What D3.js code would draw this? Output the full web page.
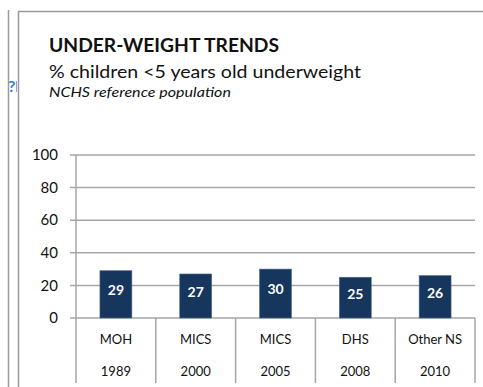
<!DOCTYPE html>
<html>
<head>
<meta charset="utf-8">
<script src="https://cdn.jsdelivr.net/npm/d3@7"></script>
<style>
  body { margin: 0; background: #fff; }
  svg { display: block; font-family: Lato, "Open Sans", sans-serif; }
  .grid line { stroke: #a6a6a6; stroke-width: 1.5; }
</style>
</head>
<body>
<svg width="483" height="387"></svg>
<script>
var sources = ["MOH", "MICS", "MICS", "DHS", "Other NS"],
    years = ["1989", "2000", "2005", "2008", "2010"],
    values = [29, 27, 30, 25, 26],
    yTicks = [0, 20, 40, 60, 80, 100];

var svg = d3.select("svg");

// frame lines of the slide around the chart
svg.append("clipPath").attr("id", "side").append("rect")
    .attr("x", 9).attr("y", 0).attr("width", 8).attr("height", 387);
svg.append("text").attr("x", 8).attr("y", 92).attr("fill", "#2f7fd0")
    .attr("clip-path", "url(#side)")
    .style("font-size", "16px").style("font-weight", "bold").text("?l");
svg.append("line").attr("x1", 8.5).attr("x2", 8.5).attr("y1", 10).attr("y2", 387)
    .attr("stroke", "#9a9a9a").attr("stroke-width", 1.5);
svg.append("path").attr("d", "M18.5,387V11.5H483")
    .attr("fill", "none").attr("stroke", "#9a9a9a").attr("stroke-width", 1.5);

// titles
svg.append("text").attr("x", 49).attr("y", 52)
    .attr("textLength", 230).attr("lengthAdjust", "spacingAndGlyphs")
    .style("font-size", "19px").style("font-weight", "bold").attr("fill", "#111")
    .text("UNDER-WEIGHT TRENDS");
svg.append("text").attr("x", 49).attr("y", 78)
    .attr("textLength", 312).attr("lengthAdjust", "spacingAndGlyphs")
    .style("font-size", "18px").attr("fill", "#111")
    .text("% children <5 years old underweight");
svg.append("text").attr("x", 49).attr("y", 97)
    .attr("textLength", 182).attr("lengthAdjust", "spacingAndGlyphs")
    .style("font-size", "13px").style("font-style", "italic").attr("fill", "#111")
    .text("NCHS reference population");

var plotLeft = 76, plotRight = 475, plotTop = 155, plotBottom = 318;

var x = d3.scaleBand().domain(d3.range(values.length)).range([plotLeft, plotRight]);
var y = d3.scaleLinear().domain([0, 100]).range([plotBottom, plotTop]);

// gridlines
svg.append("g").attr("class", "grid")
    .selectAll("line").data(yTicks).enter().append("line")
    .attr("x1", 70).attr("x2", plotRight)
    .attr("y1", function(d) { return y(d); })
    .attr("y2", function(d) { return y(d); });

// y axis labels
svg.append("g").selectAll("text").data(yTicks).enter().append("text")
    .attr("x", 58).attr("y", function(d) { return y(d); })
    .attr("dy", "0.35em").attr("text-anchor", "end")
    .style("font-size", "15px").attr("fill", "#111")
    .text(function(d) { return d; });

// vertical axis and category separators
var seps = d3.range(values.length + 1).map(function(i) {
  return i < values.length ? x(i) : x(values.length - 1) + x.bandwidth();
});
svg.append("line").attr("x1", plotLeft).attr("x2", plotLeft).attr("y1", plotTop).attr("y2", plotBottom)
    .attr("stroke", "#a6a6a6").attr("stroke-width", 1.5);
svg.append("g").selectAll("line").data(seps).enter().append("line")
    .attr("x1", function(d) { return d; }).attr("x2", function(d) { return d; })
    .attr("y1", plotBottom).attr("y2", 383)
    .attr("stroke", "#a6a6a6").attr("stroke-width", 1.5);

// bars
var bw = x.bandwidth() * 0.4;
svg.append("g").selectAll("rect").data(values).enter().append("rect")
    .attr("x", function(d, i) { return x(i) + (x.bandwidth() - bw) / 2; })
    .attr("y", function(d) { return y(d); })
    .attr("width", bw)
    .attr("height", function(d) { return y(0) - y(d); })
    .attr("fill", "#17365d")
    .attr("stroke", "#4a6a92").attr("stroke-width", 0.6);

// value labels
svg.append("g").selectAll("text").data(values).enter().append("text")
    .attr("x", function(d, i) { return x(i) + x.bandwidth() / 2; })
    .attr("y", function(d) { return (y(d) + y(0)) / 2 - 4; })
    .attr("dy", "0.35em").attr("text-anchor", "middle")
    .style("font-size", "14px").style("font-weight", "bold").attr("fill", "#fff")
    .text(function(d) { return d; });

// category labels
var cats = svg.append("g").selectAll("g").data(values).enter().append("g");
cats.append("text")
    .attr("x", function(d, i) { return x(i) + x.bandwidth() / 2; })
    .attr("y", 339).attr("dy", "0.35em").attr("text-anchor", "middle")
    .style("font-size", "13px").attr("fill", "#111")
    .text(function(d, i) { return sources[i]; });
cats.append("text")
    .attr("x", function(d, i) { return x(i) + x.bandwidth() / 2; })
    .attr("y", 371).attr("dy", "0.35em").attr("text-anchor", "middle")
    .style("font-size", "13px").attr("fill", "#111")
    .text(function(d, i) { return years[i]; });
</script>
</body>
</html>
